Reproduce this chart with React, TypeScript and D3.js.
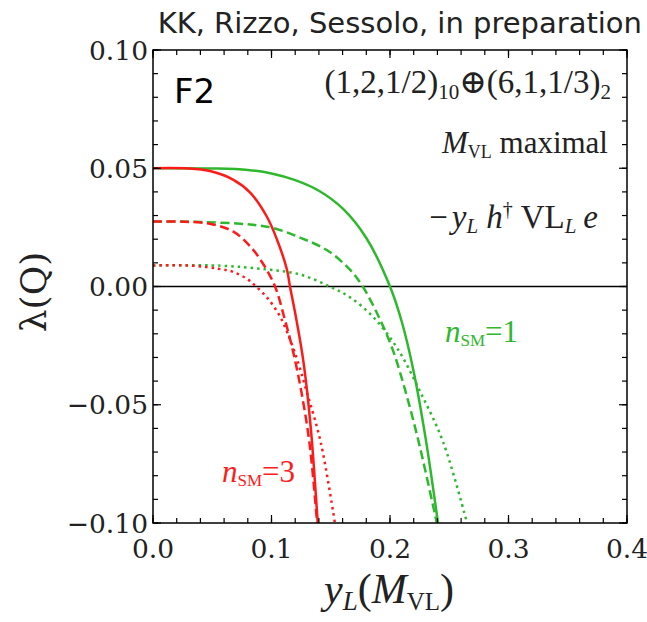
import React from "react";
import * as d3 from "d3";

// x = y_L(M_VL), y = lambda(Q)
const nsm1Solid: [number, number][] = [
  [0, 0.05], [0.05, 0.0499], [0.08, 0.0493], [0.1, 0.0478], [0.12, 0.045], [0.14, 0.0405],
  [0.16, 0.033], [0.18, 0.0205], [0.2, 0.0], [0.21, -0.015], [0.22, -0.036], [0.23, -0.064], [0.2405, -0.1],
];
const nsm1Dashed: [number, number][] = [
  [0, 0.0275], [0.04, 0.0273], [0.082, 0.0262], [0.101, 0.0248], [0.124, 0.0207], [0.147, 0.0153],
  [0.166, 0.0072], [0.177, 0.0], [0.1916, -0.014], [0.2025, -0.027], [0.214, -0.046], [0.2253, -0.068], [0.2395, -0.1],
];
const nsm1Dotted: [number, number][] = [
  [0, 0.0089], [0.057, 0.0088], [0.096, 0.0072], [0.124, 0.0051], [0.149, 0.0], [0.166, -0.0045],
  [0.186, -0.013], [0.206, -0.026], [0.225, -0.044], [0.245, -0.066], [0.265, -0.1],
];
const nsm3Solid: [number, number][] = [
  [0, 0.05], [0.03, 0.0499], [0.048, 0.0488], [0.0675, 0.0452], [0.082, 0.0397], [0.096, 0.0296],
  [0.1046, 0.0199], [0.113, 0.0072], [0.1156, 0.0], [0.121, -0.014], [0.127, -0.032], [0.133, -0.059], [0.139, -0.1],
];
const nsm3Dashed: [number, number][] = [
  [0, 0.0275], [0.025, 0.0274], [0.048, 0.0265], [0.0675, 0.0233], [0.082, 0.017], [0.093, 0.0095],
  [0.103, 0.0], [0.111, -0.0135], [0.118, -0.027], [0.125, -0.044], [0.132, -0.066], [0.1385, -0.1],
];
const nsm3Dotted: [number, number][] = [
  [0, 0.0089], [0.033, 0.0088], [0.055, 0.0075], [0.0675, 0.0062], [0.08, 0.003], [0.087, 0.0],
  [0.096, -0.0045], [0.1075, -0.013], [0.119, -0.027], [0.13, -0.045], [0.1416, -0.066], [0.1535, -0.1],
];

const xMajor = [0, 0.1, 0.2, 0.3, 0.4];
const xLabels = ["0.0", "0.1", "0.2", "0.3", "0.4"];
const yMajor = [-0.1, -0.05, 0, 0.05, 0.1];
const yLabels = ["\u22120.10", "\u22120.05", "0.00", "0.05", "0.10"];

const RED = "#ff1a1a";
const GREEN = "#2db82d";

const series = [
  { data: nsm1Solid, color: GREEN, dash: null },
  { data: nsm1Dashed, color: GREEN, dash: "9,4.5" },
  { data: nsm1Dotted, color: GREEN, dash: "2.5,4" },
  { data: nsm3Solid, color: RED, dash: null },
  { data: nsm3Dashed, color: RED, dash: "9,4.5" },
  { data: nsm3Dotted, color: RED, dash: "2.5,4" },
];

export default function App() {
  const W = 647, H = 622;
  const L = 153, R = 627, T = 50, B = 523;
  const x = d3.scaleLinear().domain([0, 0.4]).range([L, R]);
  const y = d3.scaleLinear().domain([-0.1, 0.1]).range([B, T]);
  const line = d3.line<[number, number]>().x(d => x(d[0])).y(d => y(d[1])).curve(d3.curveCatmullRom.alpha(0.5));
  const xMinor = d3.range(0, 0.4001, 0.02);
  const yMinor = d3.range(-0.1, 0.1001, 0.01);
  const serif = "'DejaVu Serif', serif";
  const math = "'Liberation Serif', 'DejaVu Serif', serif";
  const sans = "'DejaVu Sans', sans-serif";
  return (
    <svg width={W} height={H} style={{ position: "absolute", left: 0, top: 0, background: "#fff" }}>
      <defs>
        <clipPath id="plot"><rect x={L} y={T} width={R - L} height={B - T} /></clipPath>
      </defs>
      <rect x={0} y={0} width={W} height={H} fill="#fff" />
      <text x={642} y={33} textAnchor="end" fontFamily={sans} fontSize={29} fill="#222">KK, Rizzo, Sessolo, in preparation</text>
      <g clipPath="url(#plot)">
        <line x1={L} x2={R} y1={y(0)} y2={y(0)} stroke="#000" strokeWidth={1.5} />
        {series.map((s, i) => (
          <path key={i} d={line(s.data) || ""} fill="none" stroke={s.color} strokeWidth={2.5}
            strokeDasharray={s.dash || undefined} />
        ))}
      </g>
      {xMinor.map((v, i) => (
        <g key={"xm" + i}>
          <line x1={x(v)} x2={x(v)} y1={B} y2={B - 5} stroke="#000" strokeWidth={1.2} />
          <line x1={x(v)} x2={x(v)} y1={T} y2={T + 5} stroke="#000" strokeWidth={1.2} />
        </g>
      ))}
      {xMajor.map((v, i) => (
        <g key={"xM" + i}>
          <line x1={x(v)} x2={x(v)} y1={B} y2={B - 8} stroke="#000" strokeWidth={1.2} />
          <line x1={x(v)} x2={x(v)} y1={T} y2={T + 8} stroke="#000" strokeWidth={1.2} />
          <text x={x(v)} y={558} textAnchor="middle" fontFamily={serif} fontSize={26.5} fill="#222">{xLabels[i]}</text>
        </g>
      ))}
      {yMinor.map((v, i) => (
        <g key={"ym" + i}>
          <line x1={L} x2={L + 5} y1={y(v)} y2={y(v)} stroke="#000" strokeWidth={1.2} />
          <line x1={R} x2={R - 5} y1={y(v)} y2={y(v)} stroke="#000" strokeWidth={1.2} />
        </g>
      ))}
      {yMajor.map((v, i) => (
        <g key={"yM" + i}>
          <line x1={L} x2={L + 8} y1={y(v)} y2={y(v)} stroke="#000" strokeWidth={1.2} />
          <line x1={R} x2={R - 8} y1={y(v)} y2={y(v)} stroke="#000" strokeWidth={1.2} />
          <text x={148} y={y(v) + 9.5} textAnchor="end" fontFamily={serif} fontSize={26.5} fill="#222">{yLabels[i]}</text>
        </g>
      ))}
      <rect x={L} y={T} width={R - L} height={B - T} fill="none" stroke="#000" strokeWidth={1.5} />
      <text x={174} y={103} fontFamily={sans} fontSize={34} fill="#000">F2</text>
      <text x={611} y={93} textAnchor="end" fontFamily={math} fontSize={33} fill="#222">
        (1,2,1/2)<tspan fontSize={21} dy={6}>10</tspan><tspan dy={-6}>⊕(6,1,1/3)</tspan><tspan fontSize={21} dy={6}>2</tspan>
      </text>
      <text x={608} y={153} textAnchor="end" fontFamily={math} fontSize={31} fill="#222">
        <tspan fontStyle="italic">M</tspan><tspan fontSize={18} dy={5}>VL</tspan><tspan dy={-5}> maximal</tspan>
      </text>
      <text x={598} y={228} textAnchor="end" fontFamily={math} fontSize={33} fill="#222">
        −<tspan fontStyle="italic" dx={4}>y</tspan><tspan fontSize={21} dy={5} fontStyle="italic">L</tspan><tspan dy={-5} fontStyle="italic" dx={8}>h</tspan><tspan fontSize={20} dy={-12}>†</tspan><tspan dy={12} dx={8}>VL</tspan><tspan fontSize={21} dy={5} fontStyle="italic">L</tspan><tspan dy={-5} fontStyle="italic" dx={7}>e</tspan>
      </text>
      <text x={445} y={342} fontFamily={math} fontSize={31} fill={GREEN}>
        <tspan fontStyle="italic">n</tspan><tspan fontSize={17} dy={4}>SM</tspan><tspan dy={-4}>=1</tspan>
      </text>
      <text x={222} y={482} fontFamily={math} fontSize={31} fill={RED}>
        <tspan fontStyle="italic">n</tspan><tspan fontSize={17} dy={4}>SM</tspan><tspan dy={-4}>=3</tspan>
      </text>
      <text transform="translate(46,292) rotate(-90)" textAnchor="middle" fontFamily={serif} fontSize={36} fill="#222">λ(Q)</text>
      <text x={389} y={603} textAnchor="middle" fontFamily={math} fontSize={42} fill="#222">
        <tspan fontStyle="italic">y</tspan><tspan fontSize={27} dy={7} fontStyle="italic">L</tspan><tspan dy={-7}>(</tspan><tspan fontStyle="italic">M</tspan><tspan fontSize={25} dy={7}>VL</tspan><tspan dy={-7}>)</tspan>
      </text>
    </svg>
  );
}
